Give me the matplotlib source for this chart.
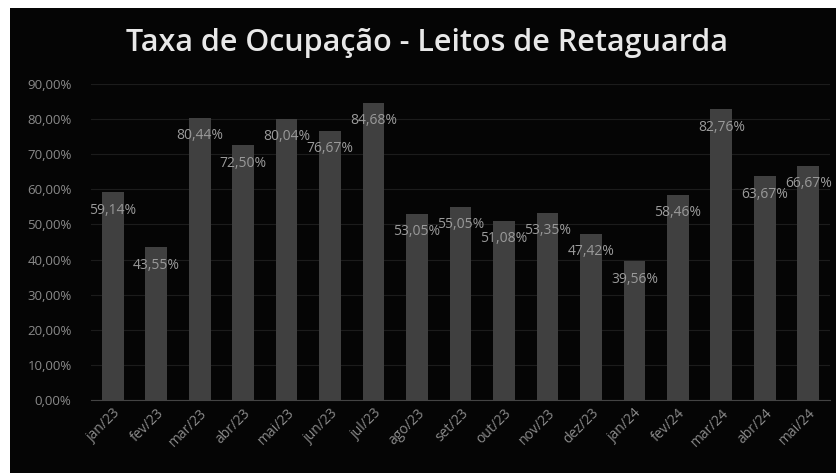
import matplotlib
matplotlib.use("Agg")
import matplotlib.pyplot as plt
from matplotlib.patches import Rectangle

months = ["jan/23", "fev/23", "mar/23", "abr/23", "mai/23", "jun/23", "jul/23", "ago/23",
          "set/23", "out/23", "nov/23", "dez/23", "jan/24", "fev/24", "mar/24", "abr/24", "mai/24"]
values = [59.14, 43.55, 80.44, 72.50, 80.04, 76.67, 84.68, 53.05,
          55.05, 51.08, 53.35, 47.42, 39.56, 58.46, 82.76, 63.67, 66.67]
yticks = [0, 10, 20, 30, 40, 50, 60, 70, 80, 90]
title = "Taxa de Ocupação - Leitos de Retaguarda"

def pct(v):
    return f"{v:.2f}".replace(".", ",") + "%"

fig = plt.figure(figsize=(8.37, 4.73), dpi=100, facecolor="white")
fig.patches.append(Rectangle((10/837, 0), 1, 1 - 8/473, transform=fig.transFigure,
                             facecolor="#050505", edgecolor="none", zorder=-10))

ax = fig.add_axes([91/837, 1 - 400/473, (830 - 91)/837, (400 - 84)/473])
ax.set_facecolor("none")
x = list(range(len(months)))
bars = ax.bar(x, values, width=0.5, color="#404040", zorder=2)
ax.set_ylim(0, 90)
ax.set_xlim(-0.5, len(months) - 0.5)
ax.set_yticks(yticks)
ax.set_yticklabels([f"{t},00%" if t else "0,00%" for t in yticks], color="#8a8a8a",
                   fontsize=9.5, family="Open Sans")
ax.set_xticks(x)
ax.set_xticklabels(months, rotation=45, ha="right", rotation_mode="anchor",
                   color="#8a8a8a", fontsize=10, family="Open Sans")
ax.tick_params(axis="y", length=0, pad=14)
ax.tick_params(axis="x", length=0, pad=4)
ax.grid(axis="y", color="#1c1c1c", linewidth=0.8, zorder=0)
for s in ["top", "right", "left"]:
    ax.spines[s].set_visible(False)
ax.spines["bottom"].set_color("#444444")

for xi, v in zip(x, values):
    ax.annotate(pct(v), (xi, v), xytext=(0, -18), textcoords="offset pixels",
                ha="center", va="center", color="#9a9a9a", fontsize=10, family="Open Sans", zorder=3)

fig.text(0.51, 1 - 43/473, title, ha="center", va="center", color="#e8e8e8",
         fontsize=22, fontweight="semibold", family="Open Sans")

fig.savefig("out.png", dpi=100, facecolor=fig.get_facecolor())
